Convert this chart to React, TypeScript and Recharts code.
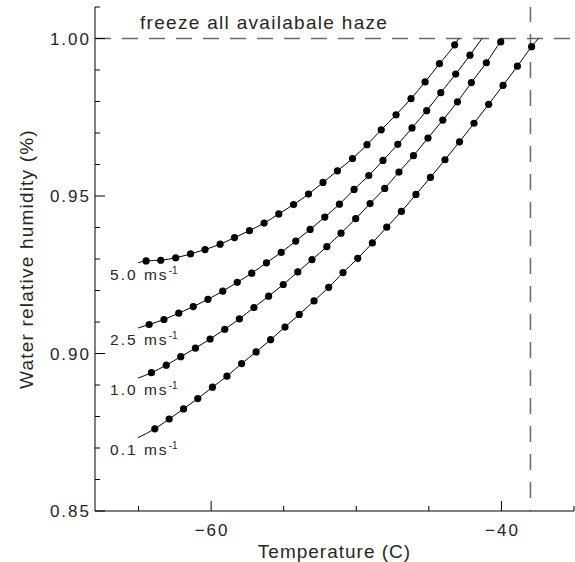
import {
  ComposedChart,
  Line,
  XAxis,
  YAxis,
  ReferenceLine,
} from "recharts";

// tick values (minor every 5 C / 0.01, majors labelled)
const xTicks = [-65, -60, -55, -50, -45, -40, -35];
const xMajor = [-60, -40];
const yTicks = [0.85, 0.86, 0.87, 0.88, 0.89, 0.9, 0.91, 0.92, 0.93, 0.94, 0.95, 0.96, 0.97, 0.98, 0.99, 1.0, 1.01];
const yMajor = [0.85, 0.9, 0.95, 1.0];

// wind speed labels
const speeds = ["5.0", "2.5", "1.0", "0.1"];

// first and last entries are the line ends, the rest carry a dot
const temp50 = [-65.03, -64.48, -63.47, -62.44, -61.42, -60.42, -59.38, -58.39, -57.36, -56.35, -55.34, -54.32, -53.29, -52.29, -51.3, -50.26, -49.26, -48.28, -47.26, -46.23, -45.26, -44.27, -43.22, -42.94];
const rh50 = [0.9288, 0.9294, 0.9296, 0.9304, 0.9316, 0.933, 0.9347, 0.9368, 0.939, 0.9414, 0.9443, 0.9473, 0.9506, 0.9543, 0.958, 0.9619, 0.9663, 0.971, 0.9758, 0.9809, 0.9862, 0.992, 0.998, 1.0];

const temp25 = [-65.03, -64.27, -63.25, -62.23, -61.23, -60.22, -59.2, -58.2, -57.2, -56.19, -55.17, -54.17, -53.18, -52.17, -51.16, -50.15, -49.14, -48.16, -47.14, -46.16, -45.15, -44.18, -43.15, -42.17, -41.34];
const rh25 = [0.9081, 0.9092, 0.9108, 0.9128, 0.9149, 0.9172, 0.9198, 0.9226, 0.9255, 0.9288, 0.9321, 0.9357, 0.9394, 0.9433, 0.9474, 0.9521, 0.9565, 0.9613, 0.9664, 0.9716, 0.9771, 0.9828, 0.9887, 0.9947, 1.0];

const temp10 = [-65.03, -64.11, -63.09, -62.09, -61.08, -60.07, -59.06, -58.05, -57.05, -56.04, -55.03, -54.03, -53.05, -52.03, -51.05, -50.04, -49.05, -48.04, -47.06, -46.06, -45.06, -44.04, -43.03, -42.07, -41.04, -40.05, -39.84];
const rh10 = [0.8922, 0.8939, 0.8963, 0.899, 0.9017, 0.9046, 0.9077, 0.911, 0.9146, 0.9182, 0.9219, 0.9259, 0.9298, 0.9339, 0.9382, 0.9428, 0.9476, 0.9524, 0.9576, 0.9628, 0.9684, 0.9741, 0.9799, 0.986, 0.9923, 0.9989, 1.0];

const temp01 = [-65.03, -63.88, -62.89, -61.9, -60.92, -59.91, -58.91, -57.9, -56.9, -55.9, -54.91, -53.93, -52.91, -51.9, -50.91, -49.9, -48.89, -47.9, -46.89, -45.89, -44.89, -43.89, -42.89, -41.89, -40.88, -39.89, -38.9, -37.92, -37.45];
const rh01 = [0.8733, 0.8761, 0.8792, 0.8824, 0.8857, 0.8893, 0.8928, 0.8968, 0.9005, 0.9044, 0.9084, 0.9124, 0.9167, 0.921, 0.9257, 0.9302, 0.9351, 0.9401, 0.9451, 0.9505, 0.9559, 0.9615, 0.9672, 0.9731, 0.9791, 0.9851, 0.9912, 0.9974, 1.0];

const freezeLimit = 1.0;
const tempLimit = -38;

const FONT = "Liberation Sans";
const INK = "#262626";
const DASH = "#6a6a6a";

const zip = (t: number[], rh: number[]) => t.map((v, i) => ({ t: v, rh: rh[i] }));

const series = [
  { name: speeds[0], data: zip(temp50, rh50) },
  { name: speeds[1], data: zip(temp25, rh25) },
  { name: speeds[2], data: zip(temp10, rh10) },
  { name: speeds[3], data: zip(temp01, rh01) },
];

const isMajorY = (v: number) => yMajor.some((m) => Math.abs(m - v) < 1e-6);

function BottomTick({ x, y, payload }: any) {
  const major = xMajor.includes(payload.value);
  return (
    <g>
      <line x1={x} x2={x} y1={y} y2={y - (major ? 10 : 5)} stroke="#000" />
      {major && (
        <text x={x + 1} y={y + 25} textAnchor="middle" fontFamily={FONT} fontSize={17} letterSpacing={2} fill={INK}>
          {"\u2212" + Math.abs(payload.value)}
        </text>
      )}
    </g>
  );
}

function TopTick({ x, y, payload }: any) {
  const major = xMajor.includes(payload.value);
  return <line x1={x} x2={x} y1={y} y2={y + (major ? 10 : 5)} stroke="#000" />;
}

function LeftTick({ x, y, payload }: any) {
  const major = isMajorY(payload.value);
  return (
    <g>
      <line x1={x} x2={x + (major ? 10 : 5)} y1={y} y2={y} stroke="#000" />
      {major && (
        <text x={x - 4} y={y + 6} textAnchor="end" fontFamily={FONT} fontSize={17} letterSpacing={2} fill={INK}>
          {payload.value.toFixed(2)}
        </text>
      )}
    </g>
  );
}

function RightTick({ x, y, payload }: any) {
  const major = isMajorY(payload.value);
  return <line x1={x} x2={x - (major ? 10 : 5)} y1={y} y2={y} stroke="#000" />;
}

export default function App() {
  return (
    <div style={{ position: "absolute", left: 0, top: 0, width: 575, height: 562, background: "#fff" }}>
      <ComposedChart width={575} height={562} margin={{ top: 7, right: 1, bottom: 0, left: 0 }}>
        <XAxis
          type="number"
          dataKey="t"
          domain={[-68, -35]}
          allowDataOverflow
          ticks={xTicks}
          interval={0}
          height={51}
          tickSize={0}
          tickMargin={0}
          tickLine={false}
          axisLine={{ stroke: "#000" }}
          tick={(p: any) => <BottomTick {...p} />}
          label={({ viewBox }: any) => (
            <text
              x={viewBox.x + viewBox.width / 2}
              y={viewBox.y + 47}
              textAnchor="middle"
              fontFamily={FONT}
              fontSize={19}
              letterSpacing={1}
              fill={INK}
            >
              Temperature (C)
            </text>
          )}
        />
        <XAxis
          xAxisId="top"
          orientation="top"
          type="number"
          dataKey="t"
          domain={[-68, -35]}
          allowDataOverflow
          ticks={xTicks}
          interval={0}
          height={0}
          tickSize={0}
          tickMargin={0}
          tickLine={false}
          axisLine={{ stroke: "#000" }}
          tick={(p: any) => <TopTick {...p} />}
        />
        <YAxis
          type="number"
          domain={[0.85, 1.01]}
          allowDataOverflow
          ticks={yTicks}
          interval={0}
          width={95}
          tickSize={0}
          tickMargin={0}
          tickLine={false}
          axisLine={{ stroke: "#000" }}
          tick={(p: any) => <LeftTick {...p} />}
          label={({ viewBox }: any) => (
            <text
              transform={`translate(${viewBox.x + 33}, ${viewBox.y + viewBox.height / 2}) rotate(-90)`}
              textAnchor="middle"
              fontFamily={FONT}
              fontSize={19}
              letterSpacing={1.2}
              fill={INK}
            >
              Water relative humidity (%)
            </text>
          )}
        />
        <YAxis
          yAxisId="right"
          orientation="right"
          type="number"
          domain={[0.85, 1.01]}
          allowDataOverflow
          ticks={yTicks}
          interval={0}
          width={0}
          tickSize={0}
          tickMargin={0}
          tickLine={false}
          axisLine={{ stroke: "#000" }}
          tick={(p: any) => <RightTick {...p} />}
        />
        <ReferenceLine
          y={freezeLimit}
          stroke={DASH}
          strokeWidth={1.5}
          strokeDasharray="16 11"
          label={({ viewBox }: any) => (
            <text x={viewBox.x + 45} y={viewBox.y - 10} fontFamily={FONT} fontSize={19} letterSpacing={1.3} fill={INK}>
              freeze all availabale haze
            </text>
          )}
        />
        <ReferenceLine x={tempLimit} stroke={DASH} strokeWidth={1.5} strokeDasharray="16 12" strokeDashoffset={-13} />
        {series.map((s) => {
          const last = s.data.length - 1;
          return (
            <Line
              key={s.name}
              data={s.data}
              dataKey="rh"
              type="monotone"
              stroke="#000"
              strokeWidth={1}
              isAnimationActive={false}
              dot={(p: any) =>
                p.index === 0 || p.index === last ? (
                  <g key={`e${s.name}${p.index}`} />
                ) : (
                  <circle key={`d${s.name}${p.index}`} cx={p.cx} cy={p.cy} r={3.6} fill="#000" stroke="none" />
                )
              }
              label={(p: any) =>
                p.index === 0 ? (
                  <text key={`l${s.name}`} x={p.x - 28} y={p.y + 17} fontFamily={FONT} fontSize={15.5} letterSpacing={2} fill={INK}>
                    {s.name + " ms"}
                    <tspan dy={-6} fontSize={10} letterSpacing={0}>
                      -1
                    </tspan>
                  </text>
                ) : (
                  <g key={`n${s.name}${p.index}`} />
                )
              }
            />
          );
        })}
      </ComposedChart>
    </div>
  );
}
